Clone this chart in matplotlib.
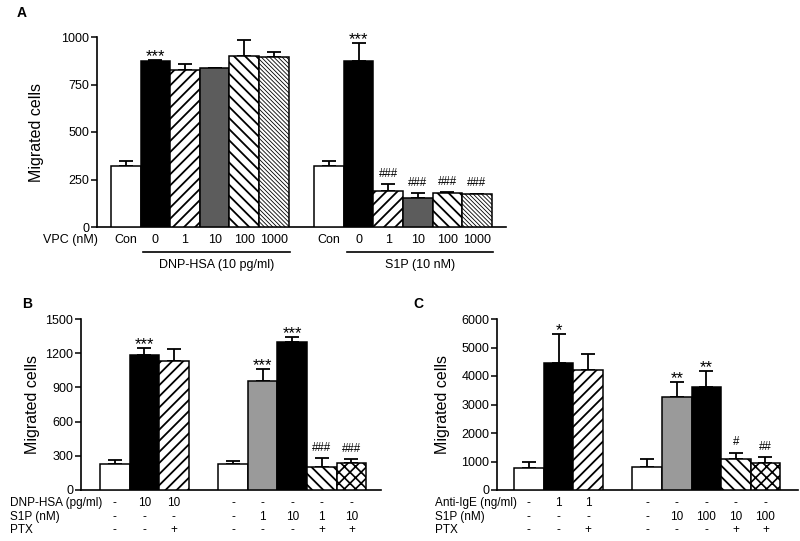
import matplotlib
matplotlib.use("Agg")
import matplotlib.pyplot as plt
from matplotlib.transforms import blended_transform_factory
import numpy as np

plt.rcParams['font.family'] = ['Liberation Sans', 'DejaVu Sans']
plt.rcParams['hatch.linewidth'] = 1.3

# ---- data ----
# panel A
a_labels = ['Con', '0', '1', '10', '100', '1000']
a_dnp_mean = [320, 875, 825, 835, 900, 895]
a_dnp_err = [30, 5, 35, 2, 85, 25]
a_dnp_marks = ['', '***', '', '', '', '']
a_s1p_mean = [320, 875, 190, 155, 177, 174]
a_s1p_err = [30, 95, 36, 25, 8, 2]
a_s1p_marks = ['', '***', '###', '###', '###', '###']
a_groups = ['DNP-HSA (10 pg/ml)', 'S1P (10 nM)']

# panel B
b_g1_mean = [228, 1184, 1134]
b_g1_err = [35, 64, 103]
b_g1_marks = ['', '***', '']
b_g2_mean = [228, 956, 1295, 202, 237]
b_g2_err = [24, 103, 44, 79, 35]
b_g2_marks = ['', '***', '***', '###', '###']
b_rows = ['DNP-HSA (pg/ml)', 'S1P (nM)', 'PTX']
b_g1_table = [['-', '10', '10'], ['-', '-', '-'], ['-', '-', '+']]
b_g2_table = [['-', '-', '-', '-', '-'], ['-', '1', '10', '1', '10'], ['-', '-', '-', '+', '+']]

# panel C
c_g1_mean = [783, 4467, 4210]
c_g1_err = [210, 1007, 550]
c_g1_marks = ['', '*', '']
c_g2_mean = [818, 3274, 3602, 1077, 937]
c_g2_err = [280, 526, 573, 233, 210]
c_g2_marks = ['', '**', '**', '#', '##']
c_rows = ['Anti-IgE (ng/ml)', 'S1P (nM)', 'PTX']
c_g1_table = [['-', '1', '1'], ['-', '-', '-'], ['-', '-', '+']]
c_g2_table = [['-', '-', '-', '-', '-'], ['-', '10', '100', '10', '100'], ['-', '-', '-', '+', '+']]

W, H = 800, 541
fig = plt.figure(figsize=(8, 5.41), dpi=100)


def add_ax(left, right, bottom, top):
    return fig.add_axes([left / W, 1 - bottom / H, (right - left) / W, (bottom - top) / H])


def style_ax(ax, yticks):
    for s in ['top', 'right']:
        ax.spines[s].set_visible(False)
    ax.spines['left'].set_linewidth(1.2)
    ax.spines['bottom'].set_linewidth(1.2)
    ax.set_xticks([])
    ax.set_yticks(yticks)
    ax.set_ylim(yticks[0], yticks[-1])
    ax.tick_params(axis='y', direction='out', length=4, width=1.1, labelsize=9, pad=1.5)


def draw_bars(ax, x, mean, err, styles, marks):
    for xi, m, e, (fc, hatch, hlw), mk in zip(x, mean, err, styles, marks):
        b = ax.bar(xi, m, width=1.0, color=fc, edgecolor='black', linewidth=1.1,
                   hatch=hatch, zorder=3)
        for p in b:
            if hatch and hasattr(p, 'set_hatch_linewidth'):
                p.set_hatch_linewidth(hlw)
        ax.errorbar(xi, m, yerr=[[0], [e]], fmt='none', ecolor='black',
                    elinewidth=1.3, capsize=5.2, capthick=1.3, zorder=2)
        if mk:
            # asterisks sit high in the font box, hashes on the baseline
            if '*' in mk:
                size, off = 12, -3
            else:
                size, off = 8.3, 3
            ax.annotate(mk, xy=(xi, m + e), xytext=(0, off), textcoords='offset points',
                        ha='center', va='bottom', fontsize=size, zorder=4)


# ---- panel A ----
axA = add_ax(97, 506, 227, 37)
style_ax(axA, [0, 250, 500, 750, 1000])
a_styles = [('white', '', 1), ('black', '', 1), ('white', '///', 1.3),
            ('#5c5c5c', '', 1), ('white', '\\\\\\', 1.3), ('white', '\\\\\\\\\\\\\\\\', 0.6)]
xa1 = np.arange(6)
xa2 = np.arange(6) + 6.86
draw_bars(axA, xa1, a_dnp_mean, a_dnp_err, a_styles, a_dnp_marks)
draw_bars(axA, xa2, a_s1p_mean, a_s1p_err, a_styles, a_s1p_marks)
axA.set_xlim(-0.97, 12.84)
trA = axA.get_xaxis_transform()
for xs in (xa1, xa2):
    for xi, lab in zip(xs, a_labels):
        axA.text(xi, -0.068, lab, transform=trA, ha='center', va='center', fontsize=9)
for xs, g in zip((xa1, xa2), a_groups):
    axA.plot([xs[1] - 0.4, xs[-1] + 0.55], [-0.132, -0.132], transform=trA,
             color='black', lw=1.2, clip_on=False)
    axA.text((xs[1] - 0.4 + xs[-1] + 0.55) / 2, -0.2, g, transform=trA,
             ha='center', va='center', fontsize=9)
fig.text(98 / W, 1 - 240 / H, 'VPC (nM)', ha='right', va='center', fontsize=9)
fig.text(37 / W, 1 - 132 / H, 'Migrated cells', rotation=90, ha='center', va='center', fontsize=11.5)
fig.text(17 / W, 1 - 13 / H, 'A', ha='left', va='center', fontsize=10, fontweight='bold')

# ---- panels B and C ----
g1_styles = [('white', '', 1), ('black', '', 1), ('white', '///', 1.3)]
g2_styles = [('white', '', 1), ('#9a9a9a', '', 1), ('black', '', 1),
             ('white', '\\\\\\', 1.3), ('white', 'xxx', 1.2)]
x1 = np.arange(3)
x2 = np.arange(5) + 4.0
row_y = [503, 517, 530]


def panel(left, right, xlim, yticks, g1, g2, rows, t1, t2, row_x, ylab_x, letter, letter_x):
    ax = add_ax(left, right, 490, 319)
    style_ax(ax, yticks)
    draw_bars(ax, x1, g1[0], g1[1], g1_styles, g1[2])
    draw_bars(ax, x2, g2[0], g2[1], g2_styles, g2[2])
    ax.set_xlim(*xlim)
    tr = blended_transform_factory(ax.transData, fig.transFigure)
    for r, ry in enumerate(row_y):
        fig.text(row_x / W, 1 - ry / H, rows[r], ha='left', va='center', fontsize=8.5)
        for xi, v in zip(x1, t1[r]):
            ax.text(xi, 1 - ry / H, v, transform=tr, ha='center', va='center', fontsize=8.5)
        for xi, v in zip(x2, t2[r]):
            ax.text(xi, 1 - ry / H, v, transform=tr, ha='center', va='center', fontsize=8.5)
    fig.text(ylab_x / W, 1 - 405 / H, 'Migrated cells', rotation=90, ha='center', va='center',
             fontsize=11.5)
    fig.text(letter_x / W, 1 - 304 / H, letter, ha='left', va='center', fontsize=10,
             fontweight='bold')
    return ax


panel(81, 381, (-1.14, 9.0), [0, 300, 600, 900, 1200, 1500],
      (b_g1_mean, b_g1_err, b_g1_marks), (b_g2_mean, b_g2_err, b_g2_marks),
      b_rows, b_g1_table, b_g2_table, 10, 32, 'B', 22)
panel(497, 798, (-1.08, 9.1), [0, 1000, 2000, 3000, 4000, 5000, 6000],
      (c_g1_mean, c_g1_err, c_g1_marks), (c_g2_mean, c_g2_err, c_g2_marks),
      c_rows, c_g1_table, c_g2_table, 435, 443, 'C', 413)

fig.savefig('out.png', dpi=100)
